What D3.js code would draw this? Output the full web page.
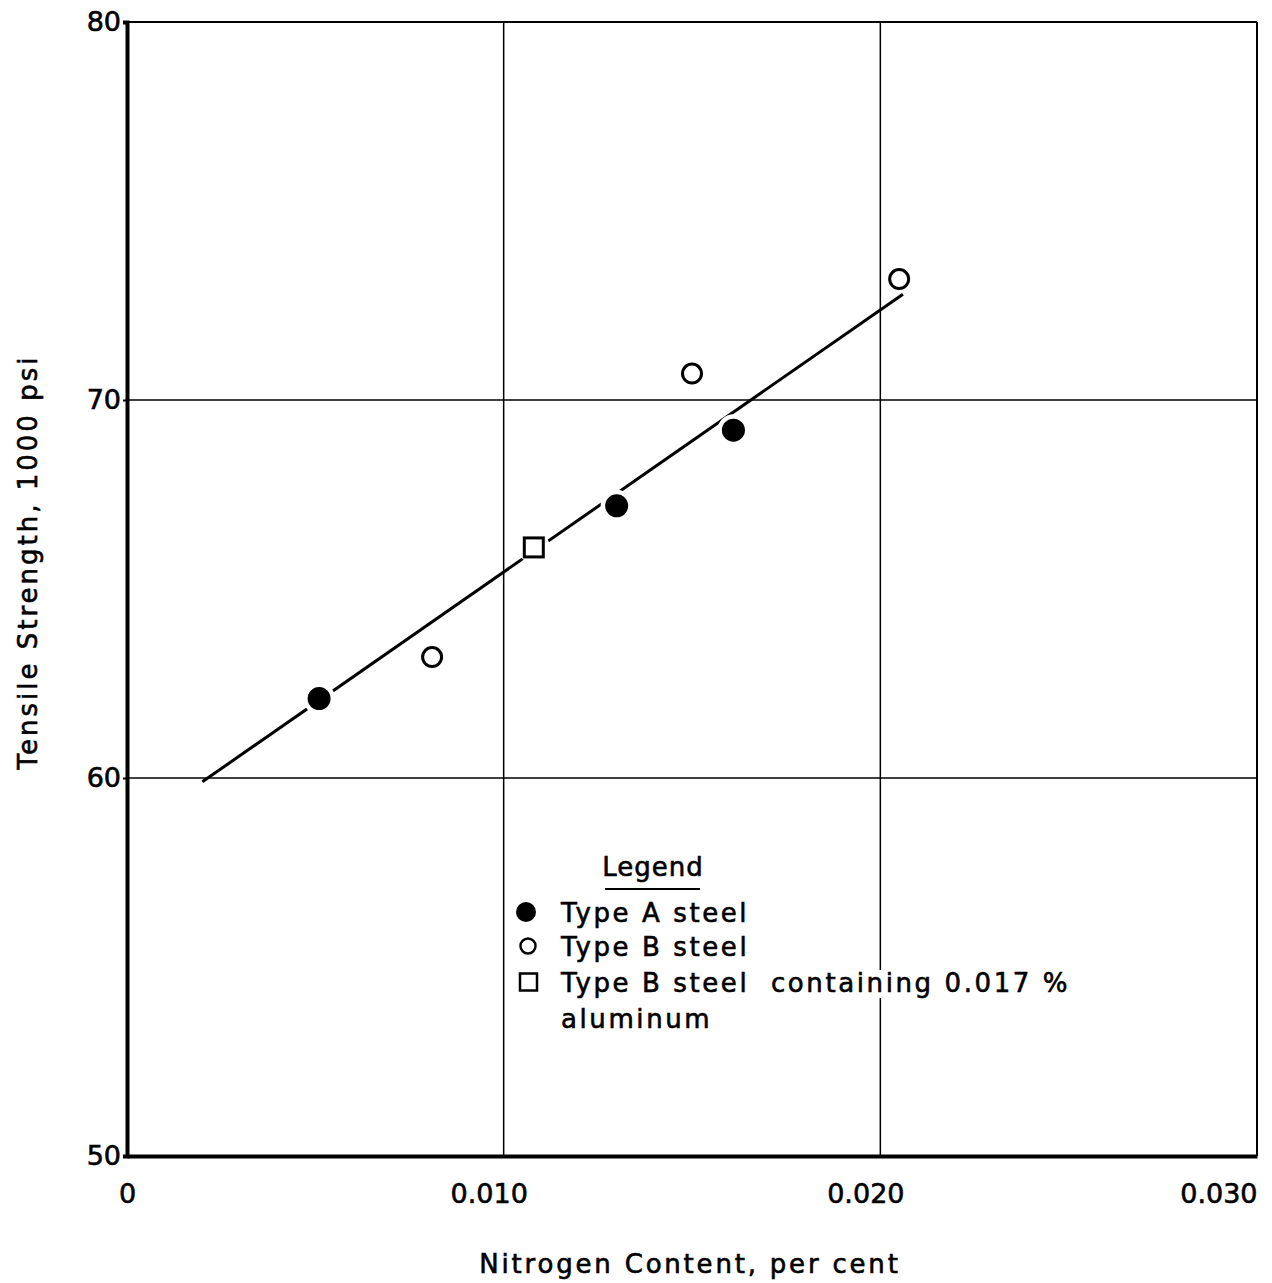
<!DOCTYPE html>
<html>
<head>
<meta charset="utf-8">
<script src="https://cdn.jsdelivr.net/npm/d3@7"></script>
<style>
  body { margin: 0; background: #fff; }
  svg { display: block; }
  text { font-family: "DejaVu Sans", sans-serif; fill: #000; stroke: #000; stroke-width: 0.6px; }
</style>
</head>
<body>
<svg id="chart" width="1272" height="1283"></svg>
<script>
// values
var typeA = [[0.0051, 62.1], [0.0130, 67.2], [0.0161, 69.2]];      // filled circles
var typeB = [[0.0081, 63.2], [0.0150, 70.7], [0.0205, 73.2]];      // open circles
var typeBAl = [[0.0108, 66.1]];                                     // open square
var fitLine = [[0.0020, 59.9], [0.0206, 72.8]];
var xTicks = [0, 0.010, 0.020, 0.030];
var xTickLabels = ["0", "0.010", "0.020", "0.030"];
var yTicks = [50, 60, 70, 80];
var legendItems = ["Type A steel", "Type B steel", "Type B steel  containing 0.017 %", "aluminum"];

var svg = d3.select("#chart");
var plotLeft = 127, plotRight = 1257, plotTop = 22, plotBottom = 1156;

var x = d3.scaleLinear().domain([0, 0.030]).range([plotLeft, plotRight]);
var y = d3.scaleLinear().domain([50, 80]).range([plotBottom, plotTop]);

// grid lines
var grid = svg.append("g");
grid.selectAll("line.v")
    .data(xTicks.slice(1, 3))
    .join("line")
    .attr("x1", d => x(d)).attr("x2", d => x(d))
    .attr("y1", plotTop).attr("y2", plotBottom)
    .attr("stroke", "#000").attr("stroke-width", 1.5);
grid.selectAll("line.h")
    .data(yTicks.slice(1, 3))
    .join("line")
    .attr("x1", plotLeft).attr("x2", plotRight)
    .attr("y1", d => y(d)).attr("y2", d => y(d))
    .attr("stroke", "#000").attr("stroke-width", 1.5);

// frame: top and right thin, left and bottom heavy
svg.append("line").attr("x1", plotLeft).attr("x2", plotRight).attr("y1", plotTop).attr("y2", plotTop)
    .attr("stroke", "#000").attr("stroke-width", 2);
svg.append("line").attr("x1", plotRight).attr("x2", plotRight).attr("y1", plotTop).attr("y2", plotBottom)
    .attr("stroke", "#000").attr("stroke-width", 2);

// axes
var xAxis = d3.axisBottom(x).tickValues(xTicks).tickSize(0)
    .tickFormat((d, i) => xTickLabels[i]);
var gx = svg.append("g").attr("transform", "translate(0," + plotBottom + ")").call(xAxis);
gx.select(".domain").attr("stroke-width", 4);
gx.selectAll(".tick text")
    .attr("font-size", 27).attr("font-family", "DejaVu Sans")
    .attr("y", 28)
    .attr("dx", (d, i) => (i === 0 || i === 3) ? 0 : -15)
    .attr("text-anchor", (d, i) => i === 3 ? "end" : "middle");

var yAxis = d3.axisLeft(y).tickValues(yTicks).tickSize(4).tickFormat(d3.format("d"));
var gy = svg.append("g").attr("transform", "translate(" + plotLeft + ",0)").call(yAxis);
gy.select(".domain").attr("stroke-width", 4);
gy.selectAll(".tick line").attr("stroke-width", 2);
gy.selectAll(".tick text").attr("font-size", 27).attr("font-family", "DejaVu Sans")
    .attr("x", -6).attr("dy", "0.3em");

// axis titles
svg.append("text")
    .attr("x", 690).attr("y", 1273)
    .attr("text-anchor", "middle")
    .attr("font-size", 26).attr("letter-spacing", 2.8)
    .text("Nitrogen Content, per cent");
svg.append("text")
    .attr("transform", "translate(37,562) rotate(-90)")
    .attr("text-anchor", "middle")
    .attr("font-size", 26).attr("letter-spacing", 3)
    .text("Tensile Strength, 1000 psi");

// fitted line
svg.append("path")
    .datum(fitLine)
    .attr("d", d3.line().x(d => x(d[0])).y(d => y(d[1])))
    .attr("stroke", "#000").attr("stroke-width", 3).attr("fill", "none");

// white halos to break the line around markers
var marks = svg.append("g");
marks.selectAll("circle.halo")
    .data(typeA.concat(typeBAl))
    .join("circle")
    .attr("cx", d => x(d[0])).attr("cy", d => y(d[1]))
    .attr("r", 16).attr("fill", "#fff");

marks.selectAll("circle.a")
    .data(typeA)
    .join("circle")
    .attr("cx", d => x(d[0])).attr("cy", d => y(d[1]))
    .attr("r", 11.5).attr("fill", "#000");

marks.selectAll("circle.b")
    .data(typeB)
    .join("circle")
    .attr("cx", d => x(d[0])).attr("cy", d => y(d[1]))
    .attr("r", 9.5).attr("fill", "#fff").attr("stroke", "#000").attr("stroke-width", 3);

marks.selectAll("rect.al")
    .data(typeBAl)
    .join("rect")
    .attr("x", d => x(d[0]) - 9.5).attr("y", d => y(d[1]) - 9.5)
    .attr("width", 19).attr("height", 19)
    .attr("fill", "#fff").attr("stroke", "#000").attr("stroke-width", 3);

// legend
var lg = svg.append("g");
lg.append("text").attr("x", 653).attr("y", 876).attr("text-anchor", "middle")
    .attr("font-size", 26).attr("letter-spacing", 1).text("Legend");
lg.append("line").attr("x1", 605).attr("x2", 700).attr("y1", 889).attr("y2", 889)
    .attr("stroke", "#000").attr("stroke-width", 2);

var rowY = [912, 946, 982, 1018];
var items = lg.selectAll("text.item")
    .data(legendItems)
    .join("text")
    .attr("x", 561).attr("y", (d, i) => rowY[i] + 10)
    .attr("font-size", 26).attr("letter-spacing", 2.6)
    .style("white-space", "pre")
    .text(d => d);

// the text blanks the grid line it crosses, as in the original
items.each(function() {
    var b = this.getBBox();
    lg.insert("rect", "text")
        .attr("x", b.x - 2).attr("y", b.y + 2)
        .attr("width", b.width + 4).attr("height", b.height - 2)
        .attr("fill", "#fff");
});

lg.append("circle").attr("cx", 526).attr("cy", rowY[0]).attr("r", 10).attr("fill", "#000");
lg.append("circle").attr("cx", 528).attr("cy", rowY[1]).attr("r", 7.5)
    .attr("fill", "#fff").attr("stroke", "#000").attr("stroke-width", 2.5);
lg.append("rect").attr("x", 520).attr("y", rowY[2] - 8.5).attr("width", 17).attr("height", 17)
    .attr("fill", "#fff").attr("stroke", "#000").attr("stroke-width", 2.5);
</script>
</body>
</html>
